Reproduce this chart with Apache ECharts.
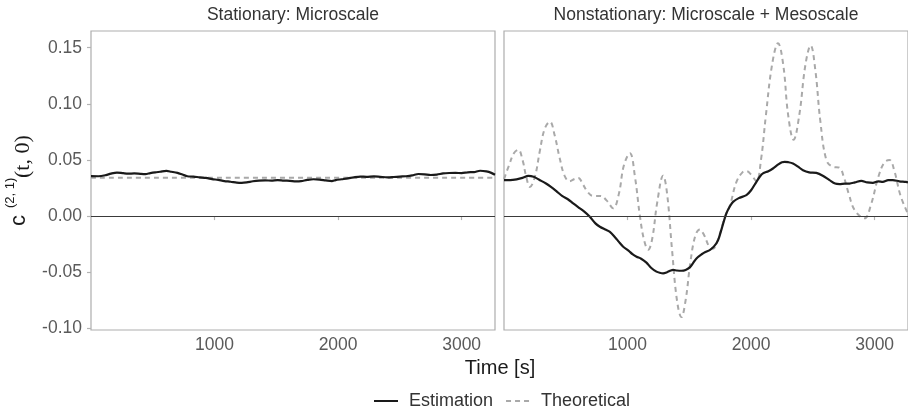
<!DOCTYPE html>
<html>
<head>
<meta charset="utf-8">
<script src="https://cdn.jsdelivr.net/npm/echarts@6/dist/echarts.min.js"></script>
<style>
html,body{margin:0;padding:0;background:#fff;}
#chart{width:908px;height:417px;}
</style>
</head>
<body>
<div id="chart"></div>
<script>
// ---- Data ----
const panelTitles = ['Stationary: Microscale', 'Nonstationary: Microscale + Mesoscale'];
const seriesNames = ['Estimation', 'Theoretical'];
const xTicks = [1000, 2000, 3000];
const yTicks = [-0.10, -0.05, 0.00, 0.05, 0.10, 0.15];

// Stationary panel
const statEstT = [0, 60, 120, 160, 210, 260, 300, 350, 400, 440, 480, 520, 560, 610, 650, 700, 740, 780, 830, 880, 930, 980, 1030, 1080, 1130, 1180, 1220, 1260, 1310, 1360, 1410, 1460, 1510, 1560, 1610, 1660, 1700, 1750, 1800, 1850, 1900, 1950, 1980, 2030, 2080, 2130, 2180, 2230, 2290, 2340, 2400, 2450, 2500, 2550, 2600, 2650, 2700, 2750, 2800, 2850, 2900, 2950, 3000, 3050, 3100, 3150, 3200, 3240, 3270];
const statEstV = [0.0356, 0.0355, 0.0365, 0.0378, 0.0388, 0.0382, 0.0378, 0.0380, 0.0376, 0.0374, 0.0383, 0.0390, 0.0395, 0.0402, 0.0395, 0.0385, 0.0370, 0.0355, 0.0352, 0.0345, 0.0340, 0.0330, 0.0322, 0.0312, 0.0306, 0.0298, 0.0296, 0.0300, 0.0310, 0.0316, 0.0318, 0.0316, 0.0320, 0.0316, 0.0314, 0.0310, 0.0312, 0.0322, 0.0328, 0.0325, 0.0318, 0.0312, 0.0320, 0.0328, 0.0336, 0.0346, 0.0352, 0.0350, 0.0354, 0.0350, 0.0345, 0.0348, 0.0352, 0.0355, 0.0362, 0.0375, 0.0372, 0.0366, 0.0370, 0.0380, 0.0384, 0.0385, 0.0383, 0.0390, 0.0392, 0.0404, 0.0398, 0.0385, 0.0368];
const statTheoT = [0, 3270];
const statTheoV = [0.0341, 0.0341];

// Nonstationary panel
const nonEstT = [0, 50, 102, 150, 197, 240, 291, 340, 380, 426, 470, 520, 560, 600, 650, 695, 740, 776, 820, 857, 900, 930, 965, 1010, 1040, 1073, 1110, 1153, 1190, 1234, 1260, 1288, 1320, 1350, 1369, 1400, 1436, 1470, 1504, 1530, 1558, 1600, 1630, 1665, 1700, 1733, 1765, 1800, 1830, 1854, 1900, 1962, 2000, 2043, 2070, 2096, 2140, 2177, 2220, 2250, 2272, 2300, 2339, 2380, 2420, 2470, 2528, 2580, 2635, 2680, 2716, 2760, 2797, 2840, 2892, 2940, 2986, 3030, 3066, 3110, 3147, 3200, 3255, 3270];
const nonEstV = [0.032, 0.032, 0.0327, 0.034, 0.0359, 0.035, 0.032, 0.029, 0.026, 0.022, 0.018, 0.0148, 0.0113, 0.008, 0.004, -0.0006, -0.0065, -0.0095, -0.012, -0.014, -0.019, -0.023, -0.0273, -0.031, -0.034, -0.0362, -0.038, -0.0415, -0.046, -0.0495, -0.0505, -0.051, -0.050, -0.0485, -0.048, -0.0485, -0.0487, -0.048, -0.0457, -0.042, -0.0377, -0.034, -0.032, -0.0303, -0.027, -0.0214, -0.010, 0.0024, 0.009, 0.0127, 0.016, 0.0187, 0.023, 0.0305, 0.035, 0.038, 0.040, 0.0424, 0.046, 0.048, 0.0483, 0.048, 0.0469, 0.044, 0.0409, 0.039, 0.0385, 0.036, 0.032, 0.029, 0.0285, 0.029, 0.029, 0.030, 0.0314, 0.030, 0.0296, 0.031, 0.0305, 0.032, 0.032, 0.031, 0.0305, 0.030];
const nonTheoT = [0, 40, 80, 116, 150, 180, 210, 250, 290, 330, 372, 410, 450, 490, 530, 570, 601, 640, 680, 720, 780, 830, 884, 930, 970, 1019, 1060, 1100, 1135, 1167, 1200, 1240, 1288, 1320, 1360, 1400, 1436, 1470, 1510, 1550, 1585, 1620, 1660, 1692, 1740, 1790, 1830, 1880, 1930, 1962, 2000, 2043, 2080, 2120, 2170, 2218, 2260, 2300, 2344, 2390, 2440, 2482, 2520, 2560, 2609, 2660, 2716, 2750, 2790, 2840, 2918, 2970, 3030, 3080, 3120, 3160, 3210, 3270];
const nonTheoV = [0.033, 0.045, 0.056, 0.059, 0.050, 0.035, 0.026, 0.035, 0.058, 0.078, 0.084, 0.072, 0.052, 0.036, 0.031, 0.033, 0.034, 0.028, 0.021, 0.018, 0.018, 0.014, 0.007, 0.020, 0.045, 0.056, 0.035, 0.000, -0.022, -0.030, -0.020, 0.012, 0.036, 0.020, -0.030, -0.075, -0.090, -0.075, -0.040, -0.017, -0.012, -0.017, -0.027, -0.029, -0.018, 0.000, 0.010, 0.030, 0.039, 0.040, 0.037, 0.031, 0.050, 0.090, 0.135, 0.154, 0.135, 0.090, 0.068, 0.090, 0.135, 0.152, 0.130, 0.085, 0.050, 0.044, 0.043, 0.035, 0.020, 0.005, -0.002, 0.010, 0.035, 0.048, 0.050, 0.040, 0.018, 0.002];

const zip = (a, b) => a.map((t, i) => [t, b[i]]);

// ---- Chart ----
const chart = echarts.init(document.getElementById('chart'), null, {renderer: 'canvas'});
const FONT = 'Liberation Sans, Arial, sans-serif';
const xMin = 0, xMax = 3270, yMin = -0.1015, yMax = 0.1649;
const grids = [
  {left: 91, top: 31, width: 404, height: 299},
  {left: 504, top: 31, width: 404, height: 299}
];

function xAxis(i) {
  return {
    type: 'value', gridIndex: i, min: xMin, max: xMax,
    splitLine: {show: false},
    axisLine: {show: false},
    axisTick: {show: true, length: 4, lineStyle: {color: '#b3b3b3', width: 1.2}, customValues: xTicks},
    axisLabel: {show: true, margin: 6, color: '#5a5a5a', fontSize: 17.5, fontFamily: FONT, customValues: xTicks,
                formatter: v => String(v)}
  };
}
function yAxis(i) {
  return {
    type: 'value', gridIndex: i, min: yMin, max: yMax,
    splitLine: {show: false},
    axisLine: {show: false},
    axisTick: {show: i === 0, length: 4, lineStyle: {color: '#b3b3b3', width: 1.2}, customValues: yTicks},
    axisLabel: {show: i === 0, margin: 9, color: '#5a5a5a', fontSize: 17.5, fontFamily: FONT, customValues: yTicks,
                formatter: v => v.toFixed(2)}
  };
}
const zeroLine = {
  silent: true, symbol: ['none', 'none'], label: {show: false},
  lineStyle: {color: '#3a3a3a', width: 1.1, type: 'solid'},
  emphasis: {disabled: true},
  data: [{yAxis: 0}]
};
function estSeries(i, data) {
  return {
    name: seriesNames[0], type: 'line', xAxisIndex: i, yAxisIndex: i, data: data,
    symbol: 'none', smooth: 0.3, lineStyle: {color: '#1a1a1a', width: 2.2}, itemStyle: {color: '#1a1a1a'},
    z: 3, markLine: zeroLine
  };
}
function theoSeries(i, data) {
  return {
    name: seriesNames[1], type: 'line', xAxisIndex: i, yAxisIndex: i, data: data,
    symbol: 'none', smooth: 0.4, lineStyle: {color: '#a9a9a9', width: 2, type: [5, 4]}, itemStyle: {color: '#a9a9a9'},
    z: 2
  };
}

const option = {
  animation: false,
  backgroundColor: '#ffffff',
  grid: grids.map(g => Object.assign({show: true, borderColor: '#adadad', borderWidth: 1.2, backgroundColor: 'transparent'}, g)),
  xAxis: [xAxis(0), xAxis(1)],
  yAxis: [yAxis(0), yAxis(1)],
  legend: {
    data: seriesNames, bottom: 2, left: 368,
    itemWidth: 24, itemHeight: 14, itemGap: 12,
    itemStyle: {opacity: 0},
    textStyle: {fontSize: 18, color: '#333333', fontFamily: FONT, padding: [0, 0, 0, 6]}
  },
  graphic: [
    {type: 'text', x: 293, y: 15, style: {text: panelTitles[0], fill: '#333333', font: '17.5px ' + FONT, align: 'center', verticalAlign: 'middle'}},
    {type: 'text', x: 706, y: 15, style: {text: panelTitles[1], fill: '#333333', font: '17.5px ' + FONT, align: 'center', verticalAlign: 'middle'}},
    {type: 'text', x: 500, y: 368, style: {text: 'Time [s]', fill: '#1a1a1a', font: '20px ' + FONT, align: 'center', verticalAlign: 'middle'}},
    {type: 'text', x: 29.5, y: 226, rotation: Math.PI / 2, style: {text: 'c', fill: '#1a1a1a', font: '22px ' + FONT, align: 'left', verticalAlign: 'bottom'}},
    {type: 'text', x: 17, y: 208, rotation: Math.PI / 2, style: {text: '(2, 1)', fill: '#1a1a1a', font: '13px ' + FONT, align: 'left', verticalAlign: 'bottom'}},
    {type: 'text', x: 34, y: 178, rotation: Math.PI / 2, style: {text: '(t, 0)', fill: '#1a1a1a', font: '22px "Liberation Serif", serif', align: 'left', verticalAlign: 'bottom'}}
  ],
  series: [
    estSeries(0, zip(statEstT, statEstV)),
    theoSeries(0, zip(statTheoT, statTheoV)),
    estSeries(1, zip(nonEstT, nonEstV)),
    theoSeries(1, zip(nonTheoT, nonTheoV))
  ]
};
chart.setOption(option);
</script>
</body>
</html>
